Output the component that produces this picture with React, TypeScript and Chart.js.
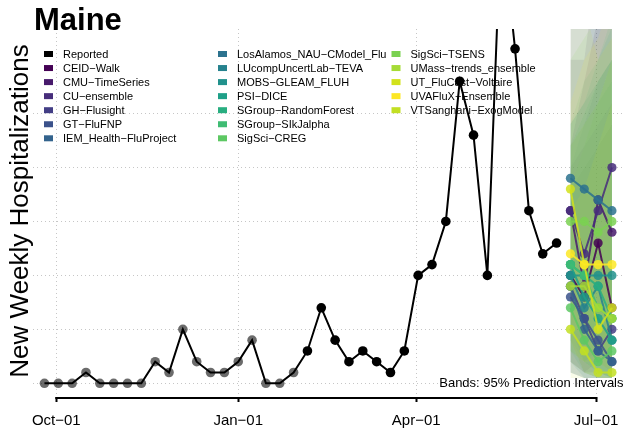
import React, { useEffect, useRef } from "react";
import { Chart, registerables } from "chart.js";

Chart.register(...registerables);

// ---------- text ----------
const chartTitle = "Maine";
const yAxisTitle = "New Weekly Hospitalizations";
const bandNote = "Bands: 95% Prediction Intervals";

// ---------- reported data ----------
const reportedDates = [
  "2022-09-25", "2022-10-02", "2022-10-09", "2022-10-16", "2022-10-23", "2022-10-30",
  "2022-11-06", "2022-11-13", "2022-11-20", "2022-11-27", "2022-12-04", "2022-12-11",
  "2022-12-18", "2022-12-25", "2023-01-01", "2023-01-08", "2023-01-15", "2023-01-22",
  "2023-01-29", "2023-02-05", "2023-02-12", "2023-02-19", "2023-02-26", "2023-03-05",
  "2023-03-12", "2023-03-19", "2023-03-26", "2023-04-02", "2023-04-09", "2023-04-16",
  "2023-04-23", "2023-04-30", "2023-05-07", "2023-05-14", "2023-05-21", "2023-05-28",
  "2023-06-04", "2023-06-11",
];
const reportedValues = [
  0, 0, 0, 1, 0, 0, 0, 0, 2, 1, 5, 2, 1, 1, 2, 4, 0, 0, 1,
  3, 7, 4, 2, 3, 2, 1, 3, 10, 11, 15, 28, 23, 10, 43, 31, 16, 12, 13,
];
const olderPointCount = 19; // earlier reports drawn in grey

// ---------- forecasts ----------
const forecastDates = ["2023-06-18", "2023-06-25", "2023-07-02", "2023-07-09"];

const modelNames = [
  "CEID-Walk", "CMU-TimeSeries", "CU-ensemble", "GH-Flusight", "GT-FluFNP",
  "IEM_Health-FluProject", "LosAlamos_NAU-CModel_Flu", "LUcompUncertLab-TEVA",
  "MOBS-GLEAM_FLUH", "PSI-DICE", "SGroup-RandomForest", "SGroup-SIkJalpha",
  "SigSci-CREG", "SigSci-TSENS", "UMass-trends_ensemble", "UT_FluCast-Voltaire",
  "UVAFluX-Ensemble", "VTSanghani-ExogModel",
];
const modelColors = [
  "#440154", "#481A6C", "#472D7B", "#433E85", "#3B528B",
  "#33638D", "#2C728E", "#26828E", "#21918C", "#1FA088",
  "#28AE80", "#3FBC73", "#5DC863", "#7AD151", "#A5DB36",
  "#D2E21B", "#FDE725", "#C2DF23",
];
const modelMedians = [
  [10, 8, 13, 7],
  [16, 9, 17, 14],
  [16, 12, 16, 20],
  [9, 6, 3, 5],
  [8, 6, 4, 2],
  [9, 5, 3, 2],
  [19, 18, 17, 16],
  [10, 7, 9, 4],
  [10, 10, 10, 10],
  [11, 8, 6, 4],
  [11, 10, 9, 6],
  [11, 10, 7, 6],
  [7, 4, 2, 3],
  [15, 15, 14, 15],
  [9, 9, 7, 6],
  [18, 11, 5, 7],
  [12, 11, 11, 11],
  [5, 3, 1, 1],
];
const modelLower95 = [
  [2, 1, 1, 0.5],
  [4, 1, 2, 1],
  [5, 2, 3, 2],
  [1, 0.5, 0.5, 0.5],
  [1, 0.5, 0.5, 0.5],
  [2, 1, 0.5, 0.5],
  [8, 5, 3, 2],
  [2, 0.5, 0.5, 0.5],
  [3, 2, 2, 1],
  [3, 1, 0.5, 0.5],
  [4, 2, 1, 0.5],
  [3, 2, 1, 0.5],
  [1, 0.5, 0.5, 0.5],
  [5, 4, 3, 3],
  [2, 1, 0.5, 0.5],
  [4, 1, 0.5, 0.5],
  [3, 2, 2, 1],
  [0.5, 0.5, 0.5, 0.5],
];
const modelUpper95 = [
  [22, 28, 34, 40],
  [30, 30, 40, 38],
  [34, 36, 45, 50],
  [20, 22, 24, 26],
  [18, 20, 22, 24],
  [20, 24, 28, 30],
  [34, 38, 42, 45],
  [24, 26, 28, 30],
  [22, 24, 26, 28],
  [24, 26, 30, 33],
  [22, 25, 28, 30],
  [24, 28, 30, 34],
  [18, 22, 26, 30],
  [30, 32, 34, 36],
  [22, 24, 26, 30],
  [38, 35, 30, 32],
  [26, 30, 32, 36],
  [16, 18, 22, 26],
];

// ---------- axes ----------
const xTickDates = ["2022-10-01", "2023-01-01", "2023-04-01", "2023-07-01"];
const xTickLabels = ["Oct\u221201", "Jan\u221201", "Apr\u221201", "Jul\u221201"];
const yGridValues = [0, 5, 10, 15, 20, 25];

// ---------- helpers ----------
const ORIGIN = Date.UTC(2022, 9, 1);
function dayNum(s: string): number {
  const [y, m, d] = s.split("-").map(Number);
  return (Date.UTC(y, m - 1, d) - ORIGIN) / 86400000;
}
function rgba(hex: string, a: number): string {
  const n = parseInt(hex.slice(1), 16);
  return `rgba(${(n >> 16) & 255},${(n >> 8) & 255},${n & 255},${a})`;
}
const FONT = '"Liberation Sans", Arial, Helvetica, sans-serif';
const disp = (s: string) => s.replace(/-/g, "\u2212");

const xTickDays = xTickDates.map(dayNum);

function buildDatasets(): any[] {
  const ds: any[] = [];
  modelNames.forEach((name, m) => {
    const ord = 200 - m; // later models drawn on top, like the reference
    ds.push({
      label: name + " upper",
      data: forecastDates.map((d, i) => ({ x: dayNum(d), y: modelUpper95[m][i] })),
      borderColor: "rgba(0,0,0,0)",
      borderWidth: 0,
      pointRadius: 0,
      fill: false,
      order: ord,
    });
    ds.push({
      label: name + " lower",
      data: forecastDates.map((d, i) => ({ x: dayNum(d), y: modelLower95[m][i] })),
      borderColor: "rgba(0,0,0,0)",
      borderWidth: 0,
      pointRadius: 0,
      fill: "-1",
      backgroundColor: rgba(modelColors[m], 0.1),
      order: ord,
    });
  });
  modelNames.forEach((name, m) => {
    ds.push({
      label: name,
      data: forecastDates.map((d, i) => ({ x: dayNum(d), y: modelMedians[m][i] })),
      borderColor: rgba(modelColors[m], 0.85),
      borderWidth: 2,
      pointRadius: 4.6,
      pointBackgroundColor: rgba(modelColors[m], 0.85),
      pointBorderWidth: 0,
      fill: false,
      order: 100 - m,
    });
  });
  ds.push({
    label: "Reported",
    data: reportedDates.map((d, i) => ({ x: dayNum(d), y: reportedValues[i] })),
    borderColor: "#000",
    borderWidth: 2,
    pointRadius: 4.8,
    pointBorderWidth: 0,
    pointBackgroundColor: reportedValues.map((_, i) => (i < olderPointCount ? "rgba(0,0,0,0.58)" : "#000")),
    fill: false,
    order: 10,
  });
  return ds;
}

const overlayPlugin = {
  id: "overlay",
  afterDraw(chart: any) {
    const ctx = chart.ctx as CanvasRenderingContext2D;
    const area = chart.chartArea;
    const xs = chart.scales.x;
    ctx.save();

    // x axis line between first and last tick
    const xa = xs.getPixelForValue(xTickDays[0]);
    const xb = xs.getPixelForValue(xTickDays[xTickDays.length - 1]);
    ctx.strokeStyle = "#000";
    ctx.lineWidth = 2;
    ctx.beginPath();
    ctx.moveTo(xa - 1, area.bottom + 1);
    ctx.lineTo(xb + 1, area.bottom + 1);
    ctx.stroke();

    // title
    ctx.fillStyle = "#000";
    ctx.font = `bold 31px ${FONT}`;
    ctx.textAlign = "left";
    ctx.textBaseline = "alphabetic";
    ctx.fillText(chartTitle, 34, 30);

    // y title
    ctx.save();
    ctx.translate(28, 211);
    ctx.rotate(-Math.PI / 2);
    ctx.font = `26px ${FONT}`;
    ctx.textAlign = "center";
    ctx.fillText(yAxisTitle, 0, 0);
    ctx.restore();

    // band note
    ctx.font = `13px ${FONT}`;
    ctx.textAlign = "right";
    ctx.fillText(bandNote, 623.5, 386.5);

    // legend
    const items = [{ label: "Reported", color: "#000" }].concat(
      modelNames.map((n, i) => ({ label: n, color: modelColors[i] }))
    );
    const colX = [44, 218, 391.5];
    const perCol = 7;
    ctx.font = `11px ${FONT}`;
    ctx.textAlign = "left";
    ctx.textBaseline = "middle";
    items.forEach((it, i) => {
      const c = Math.floor(i / perCol);
      const r = i % perCol;
      const x = colX[c];
      const y = 54 + r * 14.05;
      ctx.fillStyle = it.color;
      ctx.fillRect(x, y - 3, 9, 6);
      ctx.fillStyle = "#000";
      ctx.fillText(disp(it.label), x + 19, y + 0.5);
    });

    ctx.restore();
  },
};

export default function App() {
  const ref = useRef<HTMLCanvasElement>(null);
  useEffect(() => {
    const chart = new Chart(ref.current as HTMLCanvasElement, {
      type: "line",
      data: { datasets: buildDatasets() },
      options: {
        animation: false,
        responsive: false,
        maintainAspectRatio: false,
        devicePixelRatio: 1,
        layout: { padding: { left: 33, right: 1, top: 29, bottom: 0 } },
        plugins: {
          legend: { display: false },
          title: { display: false },
          tooltip: { enabled: false },
        },
        elements: { line: { tension: 0 } },
        scales: {
          x: {
            type: "linear",
            min: -11.79,
            max: 287.2,
            afterBuildTicks: (s: any) => {
              s.ticks = xTickDays.map((v) => ({ value: v }));
            },
            afterFit: (s: any) => {
              s.height = 39;
              s.paddingLeft = 0;
              s.paddingRight = 0;
            },
            grid: {
              color: "#c6c6c6",
              lineWidth: 1,
              drawTicks: true,
              tickLength: 5,
              tickColor: "#000",
              tickWidth: 2,
              tickBorderDash: [],
            },
            border: { display: false, dash: [1, 3] },
            ticks: {
              autoSkip: false,
              maxRotation: 0,
              minRotation: 0,
              padding: 10,
              color: "#000",
              font: { family: FONT, size: 15 },
              callback: (v: any) => {
                const i = xTickDays.indexOf(Number(v));
                return i >= 0 ? xTickLabels[i] : "";
              },
            },
          },
          y: {
            type: "linear",
            min: -1.27,
            max: 32.84,
            afterBuildTicks: (s: any) => {
              s.ticks = yGridValues.map((v) => ({ value: v }));
            },
            afterFit: (s: any) => {
              s.width = 0;
              s.paddingTop = 0;
              s.paddingBottom = 0;
            },
            grid: { color: "#c6c6c6", lineWidth: 1, drawTicks: false },
            border: { display: false, dash: [1, 3] },
            ticks: { display: false },
          },
        },
      } as any,
      plugins: [overlayPlugin],
    });
    return () => chart.destroy();
  }, []);
  return (
    <div style={{ position: "absolute", left: 0, top: 0, width: 629, height: 436, background: "#fff" }}>
      <canvas ref={ref} width={629} height={436} style={{ display: "block", width: 629, height: 436 }} />
    </div>
  );
}
